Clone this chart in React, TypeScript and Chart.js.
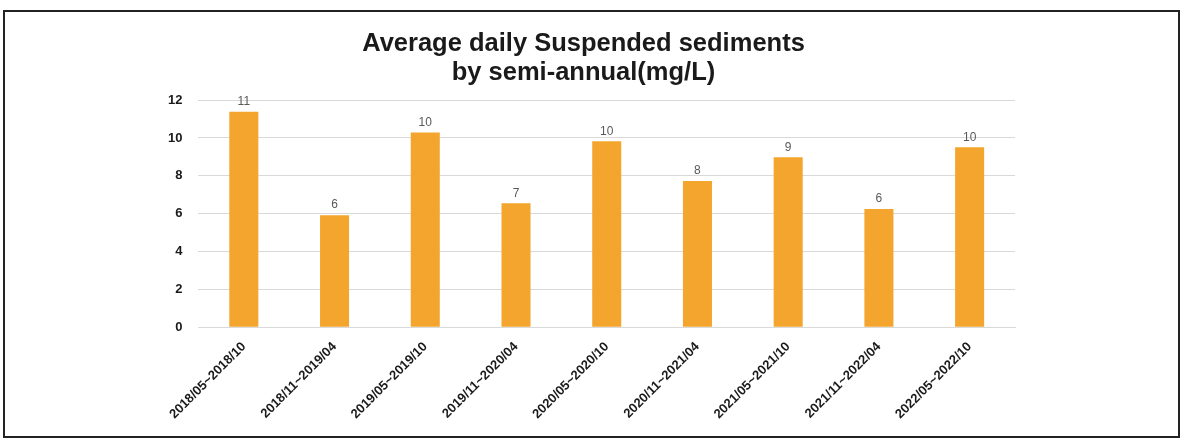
import React, { useEffect, useRef } from "react";
import { Chart, registerables } from "chart.js";

Chart.register(...registerables);

const categories = [
  "2018/05~2018/10",
  "2018/11~2019/04",
  "2019/05~2019/10",
  "2019/11~2020/04",
  "2020/05~2020/10",
  "2020/11~2021/04",
  "2021/05~2021/10",
  "2021/11~2022/04",
  "2022/05~2022/10",
];
const values = [11.38, 5.92, 10.29, 6.55, 9.83, 7.72, 8.98, 6.24, 9.51];
const titleLines = ["Average daily Suspended sediments", "by semi-annual(mg/L)"];
const yTicks = [0, 2, 4, 6, 8, 10, 12];

const FONT = "'Liberation Sans', Arial, sans-serif";

const valueLabels = {
  id: "valueLabels",
  afterDatasetsDraw(chart: any) {
    const ctx = chart.ctx;
    const meta = chart.getDatasetMeta(0);
    ctx.save();
    ctx.font = `12px ${FONT}`;
    ctx.fillStyle = "#595959";
    ctx.textAlign = "center";
    ctx.textBaseline = "bottom";
    meta.data.forEach((bar: any, i: number) => {
      ctx.fillText(String(Math.round(values[i])), bar.x, bar.y - 4);
    });
    ctx.restore();
  },
};

export default function App() {
  const ref = useRef<HTMLCanvasElement>(null);
  useEffect(() => {
    if (!ref.current) return;
    const chart = new Chart(ref.current, {
      type: "bar",
      data: {
        labels: categories,
        datasets: [
          {
            data: values,
            backgroundColor: "#F4A52E",
            borderWidth: 0,
            barPercentage: 0.64,
            categoryPercentage: 0.5,
          },
        ],
      },
      options: {
        animation: false,
        responsive: false,
        maintainAspectRatio: false,
        layout: { padding: { top: 14, left: 152, right: 183, bottom: 14 } },
        plugins: {
          legend: { display: false },
          tooltip: { enabled: false },
          title: {
            display: true,
            text: titleLines,
            color: "#1a1a1a",
            font: { family: FONT, size: 25.5, weight: "bold", lineHeight: 1.14 },
            padding: { top: 15, bottom: 13 },
          },
        },
        scales: {
          x: {
            grid: { display: false },
            border: { color: "#d9d9d9" },
            ticks: {
              color: "#1a1a1a",
              font: { family: FONT, size: 13, weight: "bold" },
              minRotation: 45,
              maxRotation: 45,
              autoSkip: false,
              padding: 4,
            },
          },
          y: {
            min: 0,
            max: 12,
            afterBuildTicks: (axis: any) => {
              axis.ticks = yTicks.map((v) => ({ value: v }));
            },
            grid: { color: "#d9d9d9", drawTicks: false },
            border: { display: false },
            ticks: {
              color: "#1a1a1a",
              font: { family: FONT, size: 13, weight: "bold" },
              padding: 16,
            },
          },
        },
      },
      plugins: [valueLabels],
    });
    return () => chart.destroy();
  }, []);
  return (
    <div style={{ position: "absolute", left: 0, top: 0, width: 1198, height: 440, background: "#fff" }}>
      <div
        style={{
          position: "absolute",
          left: 3,
          top: 10,
          width: 1173,
          height: 424,
          border: "2px solid #222",
        }}
      />
      <canvas ref={ref} width={1198} height={440} style={{ position: "absolute", left: 0, top: 0 }} />
    </div>
  );
}
